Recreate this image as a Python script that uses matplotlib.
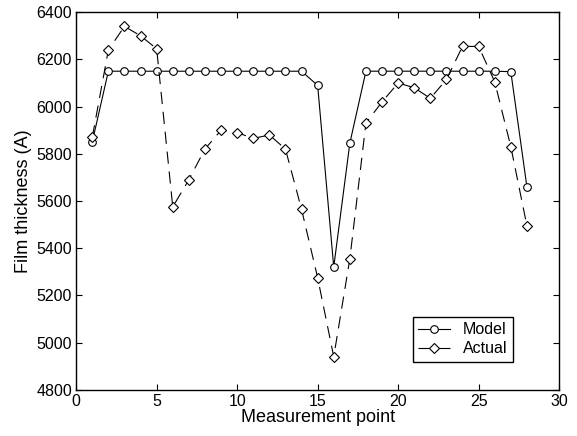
import numpy as np
import matplotlib
matplotlib.use("Agg")
import matplotlib.pyplot as plt

plt.rcParams['font.family'] = ['Liberation Sans', 'DejaVu Sans']

points = np.arange(1, 29)
model = [5850, 6150, 6150, 6150, 6150, 6150, 6150, 6150, 6150, 6150,
         6150, 6150, 6150, 6150, 6090, 5320, 5845, 6150, 6150, 6150,
         6150, 6150, 6150, 6150, 6150, 6150, 6148, 5660]
actual = [5870, 6240, 6340, 6300, 6245, 5575, 5690, 5820, 5900, 5890,
          5865, 5880, 5820, 5565, 5275, 4940, 5355, 5930, 6020, 6100,
          6080, 6035, 6115, 6255, 6255, 6105, 5830, 5495]

fig = plt.figure(figsize=(5.77, 4.36), dpi=100)
ax = fig.add_axes([0.132, 0.106, 0.837, 0.866])

ax.plot(points, model, '-', color='black', lw=0.8, marker='o', ms=5.5,
        mfc='white', mec='black', mew=0.8, label='Model')
ax.plot(points, actual, color='black', lw=0.8, dashes=(11, 7), marker='D', ms=4.8,
        mfc='white', mec='black', mew=0.8, label='Actual')

ax.set_xlim(0, 30)
ax.set_ylim(4800, 6400)
ax.set_xticks(np.arange(0, 31, 5))
ax.set_yticks(np.arange(4800, 6401, 200))
ax.tick_params(direction='in', top=True, right=True, labelsize=11.5, length=4, pad=3)
for s in ax.spines.values():
    s.set_linewidth(1.0)

ax.set_xlabel('Measurement point', fontsize=13, labelpad=0)
ax.set_ylabel('Film thickness (A)', fontsize=13, labelpad=3)

leg = ax.legend(loc='lower right', bbox_to_anchor=(0.905, 0.074), borderaxespad=0,
                fancybox=False, edgecolor='black', framealpha=1, fontsize=11.5,
                handlelength=2.0, borderpad=0.35, labelspacing=0.25)
leg.get_frame().set_linewidth(1.0)

fig.savefig('out.png', dpi=100)
